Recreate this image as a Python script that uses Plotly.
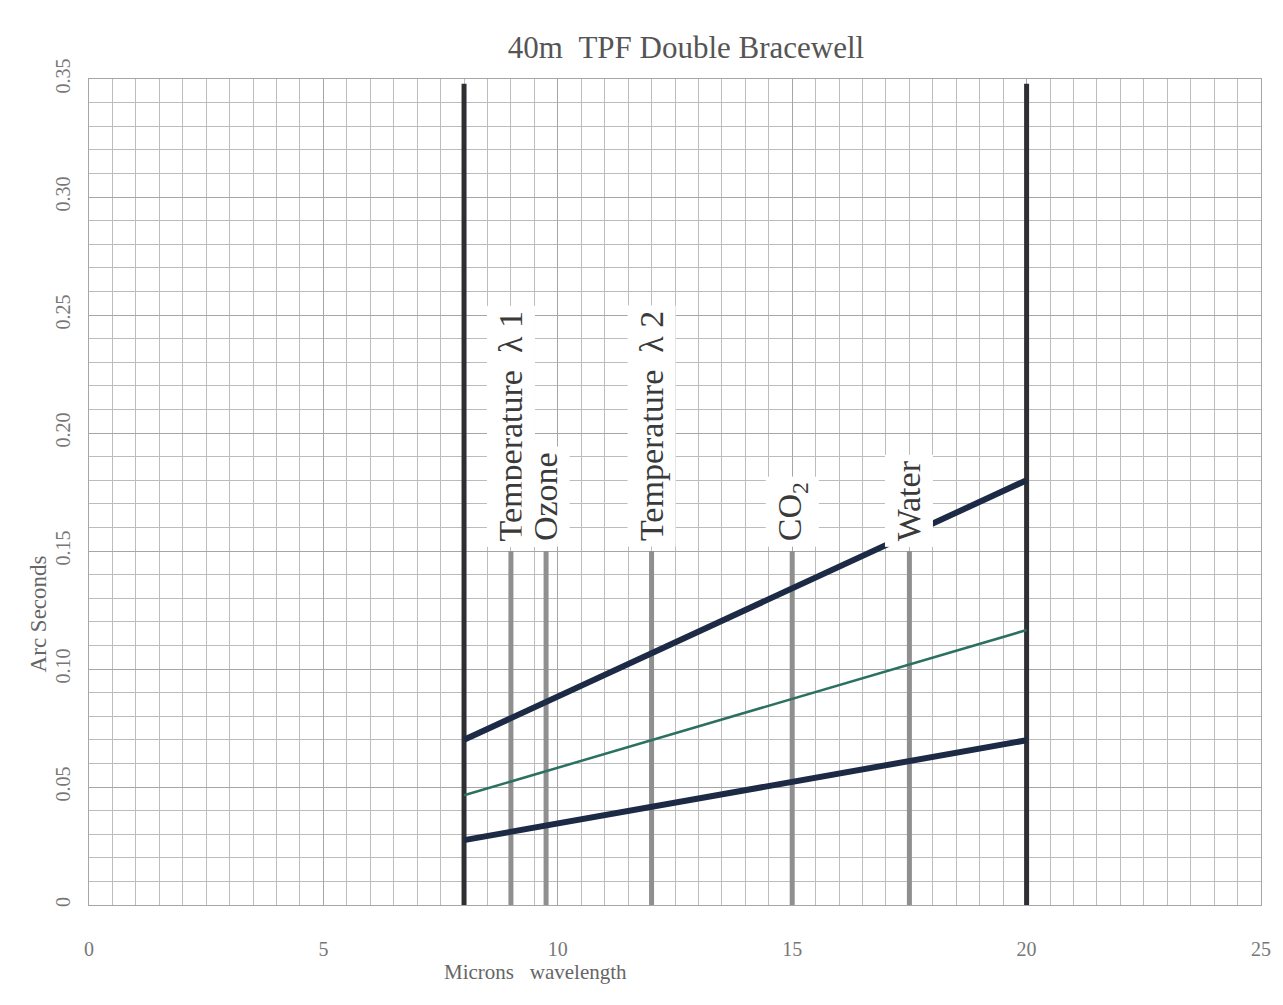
import plotly.graph_objects as go

# Wavelength band limits (microns) and the three resolution curves (arc seconds)
band_edges = [8.0, 20.0]
band_top = [0.0, 0.348]

wavelength = [8.0, 20.0]
resolution_wide = [0.070, 0.180]
resolution_mid = [0.0465, 0.1165]
resolution_narrow = [0.0275, 0.0698]

# Spectral features of interest
feature_names = ["Temperature  λ 1", "Ozone", "Temperature  λ 2", "CO<sub>2</sub>", "Water"]
feature_wavelengths = [9.0, 9.75, 12.0, 15.0, 17.5]
feature_top = 0.15
label_base = 0.1515

x_tickvals = [0, 5, 10, 15, 20, 25]
x_ticktext = ["0", "5", "10", "15", "20", "25"]
y_tickvals = [0, 0.05, 0.10, 0.15, 0.20, 0.25, 0.30, 0.35]
y_ticktext = ["0", "0.05", "0.10", "0.15", "0.20", "0.25", "0.30", "0.35"]

SERIF = "Liberation Serif, Times New Roman, serif"
NAVY = "#1d2a45"

fig = go.Figure()

# Feature markers (grey verticals)
for fx in feature_wavelengths:
    fig.add_trace(go.Scatter(
        x=[fx, fx], y=[0, feature_top], mode="lines",
        line=dict(color="#8f8f8f", width=5), hoverinfo="skip", showlegend=False))

# Band edges (heavy verticals)
for bx in band_edges:
    fig.add_trace(go.Scatter(
        x=[bx, bx], y=band_top, mode="lines",
        line=dict(color="#2f2f33", width=5), hoverinfo="skip", showlegend=False))

# Resolution curves
fig.add_trace(go.Scatter(x=wavelength, y=resolution_narrow, mode="lines",
                         line=dict(color=NAVY, width=6), showlegend=False))
fig.add_trace(go.Scatter(x=wavelength, y=resolution_mid, mode="lines",
                         line=dict(color="#2c7060", width=2.5), showlegend=False))
fig.add_trace(go.Scatter(x=wavelength, y=resolution_wide, mode="lines",
                         line=dict(color=NAVY, width=6), showlegend=False))

# Feature labels, vertical with a white backing
for name, fx in zip(feature_names, feature_wavelengths):
    fig.add_annotation(
        x=fx, y=label_base, xref="x", yref="y", text=name, textangle=-90,
        showarrow=False, xanchor="center", yanchor="bottom",
        bgcolor="white", borderpad=5,
        font=dict(family=SERIF, size=34, color="#3a3a3a"))

# Axis captions (paper coordinates relative to the plotting area)
fig.add_annotation(x=-0.0434, y=0.352, xref="paper", yref="paper",
                   xanchor="center", yanchor="middle",
                   text="Arc Seconds", textangle=-90, showarrow=False,
                   font=dict(family=SERIF, size=23, color="#666"))
fig.add_annotation(x=0.381, y=-0.081, xref="paper", yref="paper",
                   xanchor="center", yanchor="middle",
                   text="Microns&nbsp;&nbsp;&nbsp;wavelength", showarrow=False,
                   font=dict(family=SERIF, size=21, color="#666"))

grid_minor = "#bcbcbc"
grid_major = "#a6a6a6"

fig.update_layout(
    width=1283, height=1005,
    margin=dict(l=89, r=18, t=79, b=100),
    paper_bgcolor="white", plot_bgcolor="white",
    title=dict(text="40m&nbsp;&nbsp;TPF Double Bracewell", x=686 / 1283, xanchor="center",
               y=1 - 47 / 1005, yanchor="middle",
               font=dict(family=SERIF, size=31, color="#555")),
    xaxis=dict(range=[0, 25], tickvals=x_tickvals, ticktext=x_ticktext,
               showgrid=True, gridcolor=grid_major, gridwidth=1,
               minor=dict(dtick=0.5, showgrid=True, gridcolor=grid_minor, gridwidth=1),
               showline=True, mirror=True, linecolor=grid_major, linewidth=1,
               zeroline=False, ticks="", ticklabelstandoff=26,
               tickfont=dict(family=SERIF, size=20, color="#777")),
    yaxis=dict(range=[0, 0.35], tickvals=y_tickvals, ticktext=y_ticktext,
               showgrid=True, gridcolor=grid_major, gridwidth=1,
               minor=dict(dtick=0.01, showgrid=True, gridcolor=grid_minor, gridwidth=1),
               showline=True, mirror=True, linecolor=grid_major, linewidth=1,
               zeroline=False, ticks="", tickangle=-90, ticklabelstandoff=10,
               tickfont=dict(family=SERIF, size=20, color="#777")),
)

fig.write_html("out.html")
